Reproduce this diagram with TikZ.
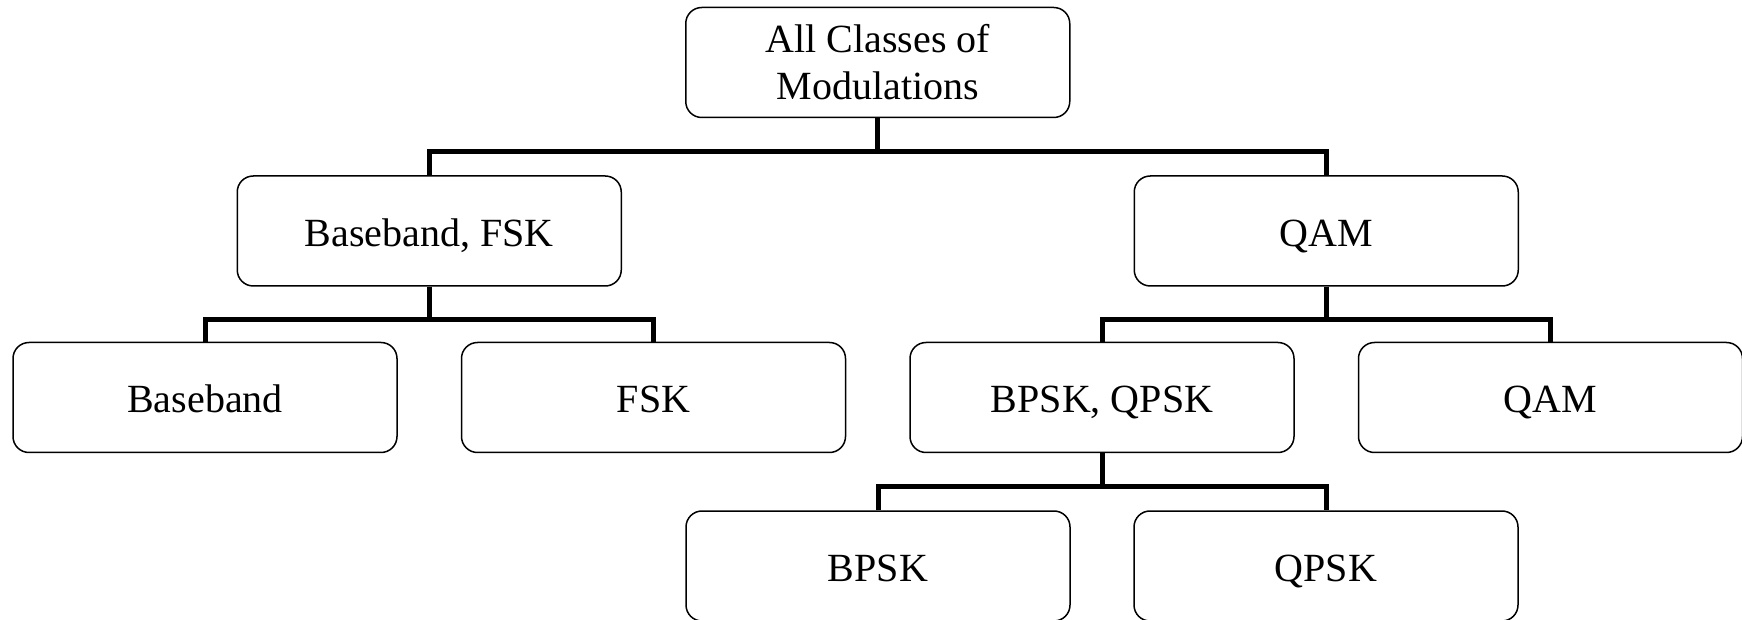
\documentclass[tikz,border=0pt]{standalone}
\usepackage{fontspec}
\setmainfont{Liberation Serif}
\usetikzlibrary{positioning, calc}

\tikzset{
    base/.style={draw, rounded corners=8pt, line width=0.75pt, minimum width=192pt,
        minimum height=55pt, align=center, font=\fontsize{20}{23.5}\selectfont},
    box/.style={base, text height=17pt, text depth=1.5pt},
    link/.style={line width=2.5pt},
}

\begin{document}
\begin{tikzpicture}[node distance=27.5pt and 31.5pt]
    \useasboundingbox (0,0) rectangle (871pt,-310pt);

    % third row
    \node[box] (bb) at (102.5pt,-198.75pt) {Baseband};
    \node[box, right=of bb] (fsk) {FSK};
    \node[box, right=of fsk] (bq) {BPSK, QPSK};
    \node[box, right=of bq] (qam2) {QAM};

    % second row
    \coordinate (m1) at ($(bb.north)!0.5!(fsk.north)$);
    \coordinate (m2) at ($(bq.north)!0.5!(qam2.north)$);
    \node[box, above=of m1] (bf) {Baseband, FSK};
    \node[box, above=of m2] (qam1) {QAM};

    % top
    \coordinate (m0) at ($(bf.north)!0.5!(qam1.north)$);
    \node[base, above=28.5pt of m0] (all) {All Classes of\\Modulations};

    % last row
    \node[box, below=28.5pt of bq, xshift=-112pt] (bpsk) {BPSK};
    \node[box, below=28.5pt of bq, xshift=112pt] (qpsk) {QPSK};

    \draw[link] (all.south) -- ++(0,-16.5pt) coordinate (j0);
    \draw[link] (bf.north) |- (j0) -| (qam1.north);
    \draw[link] (bf.south) -- ++(0,-16.5pt) coordinate (j1);
    \draw[link] (bb.north) |- (j1) -| (fsk.north);
    \draw[link] (qam1.south) -- ++(0,-16.5pt) coordinate (j2);
    \draw[link] (bq.north) |- (j2) -| (qam2.north);
    \draw[link] (bq.south) -- ++(0,-16.5pt) coordinate (j3);
    \draw[link] (bpsk.north) |- (j3) -| (qpsk.north);
\end{tikzpicture}
\end{document}
